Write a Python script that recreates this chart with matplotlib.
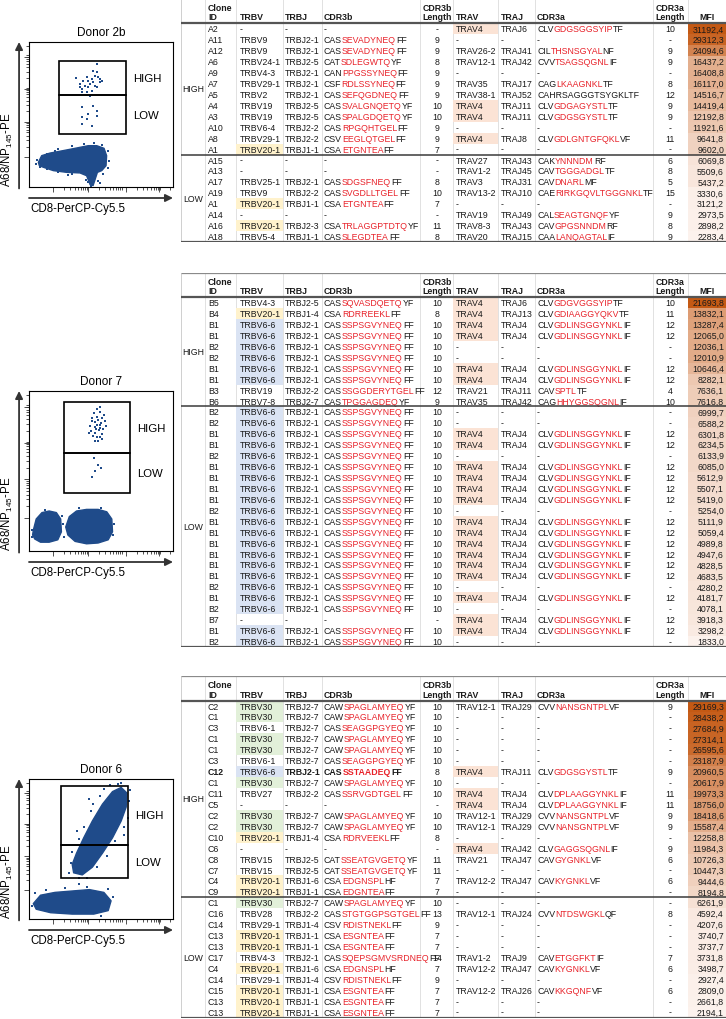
import matplotlib
matplotlib.use("Agg")
import matplotlib.pyplot as plt
from matplotlib.patches import Rectangle, Polygon
from matplotlib.font_manager import FontProperties
import numpy as np

plt.rcParams['font.family'] = ['Liberation Sans', 'DejaVu Sans']
plt.rcParams['mathtext.fontset'] = 'custom'
plt.rcParams['mathtext.rm'] = 'Liberation Sans'

W, H = 726, 1020

# ======================= DATA =======================
# ---- Donor 2b ----
t1_ids = ["A2", "A11", "A12", "A6", "A9", "A7", "A5", "A4", "A3", "A10", "A8", "A1",
          "A15", "A13", "A17", "A19", "A1", "A14", "A16", "A18"]
t1_trbv = ["-", "TRBV9", "TRBV9", "TRBV24-1", "TRBV4-3", "TRBV29-1", "TRBV2", "TRBV19", "TRBV19",
           "TRBV6-4", "TRBV29-1", "TRBV20-1", "-", "-", "TRBV25-1", "TRBV9", "TRBV20-1", "-",
           "TRBV20-1", "TRBV5-4"]
t1_trbj = ["-", "TRBJ2-1", "TRBJ2-1", "TRBJ2-5", "TRBJ2-1", "TRBJ2-1", "TRBJ2-1", "TRBJ2-5", "TRBJ2-5",
           "TRBJ2-2", "TRBJ2-2", "TRBJ1-1", "-", "-", "TRBJ2-1", "TRBJ2-2", "TRBJ1-1", "-",
           "TRBJ2-3", "TRBJ1-1"]
t1_cdr3b = ["-", "CAS[SEVADYNEQ]FF", "CAS[SEVADYNEQ]FF", "CAT[SDLEGWTQ]YF", "CAN[PPGSSYNEQ]FF",
            "CSF[RDLSSYNEQ]FF", "CAS[SEFQGDNEQ]FF", "CAS[SVALGNQETQ]YF", "CAS[SPALGDQETQ]YF",
            "CAS[RPGQHTGEL]FF", "CSV[EEGLQTGEL]FF", "CSA[ETGNTEA]FF", "-", "-", "CAS[SDGSFNEQ]FF",
            "CAS[SVGDLLTGEL]FF", "CSA[ETGNTEA]FF", "-", "CSA[TRLAGGPTDTQ]YF", "CAS[SLEGDTEA]FF"]
t1_blen = ["-", "9", "9", "8", "9", "9", "9", "10", "10", "9", "9", "7", "-", "-", "8", "10", "7", "-", "11", "8"]
t1_trav = ["TRAV4", "-", "TRAV26-2", "TRAV12-1", "-", "TRAV35", "TRAV38-1", "TRAV4", "TRAV4", "-",
           "TRAV4", "-", "TRAV27", "TRAV1-2", "TRAV3", "TRAV13-2", "-", "TRAV19", "TRAV8-3", "TRAV20"]
t1_traj = ["TRAJ6", "-", "TRAJ41", "TRAJ42", "-", "TRAJ17", "TRAJ52", "TRAJ11", "TRAJ11", "-",
           "TRAJ8", "-", "TRAJ43", "TRAJ45", "TRAJ31", "TRAJ10", "-", "TRAJ49", "TRAJ43", "TRAJ15"]
t1_cdr3a = ["CLV[GDGSGGSYIP]TF", "-", "CIL[THSNSGYAL]NF", "CVV[TSAGSQGNL]IF", "-", "CAG[LKAAGNKL]TF",
            "CAHRSAGGGTSYGKLTF", "CLV[GDGAGYSTL]TF", "CLV[GDGSGYSTL]TF", "-", "CLV[GDLGNTGFQKL]VF", "-",
            "CAK[YNNNDM]RF", "CAV[TGGGADGL]TF", "CAV[DNARL]MF", "CAE[RIRKGQVLTGGGNKL]TF", "-",
            "CAL[SEAGTGNQF]YF", "CAV[GPGSNNDM]RF", "CAA[LANQAGTAL]IF"]
t1_alen = ["10", "-", "9", "9", "-", "8", "12", "9", "9", "-", "11", "-", "6", "8", "5", "15", "-", "9", "8", "9"]
t1_mfi = [31192.4, 29312.3, 24094.6, 16437.2, 16408.8, 16117.0, 14516.7, 14419.4, 12192.8, 11921.6,
          9641.8, 9602.0, 6069.8, 5509.6, 5437.2, 3330.6, 3121.2, 2973.5, 2898.2, 2283.4]
t1_nhigh = 12

# ---- Donor 7 ----
B66 = "CAS[SSPSGVYNEQ]FF"
A4L = "CLV[GDLINSGGYNKL]IF"
t2_ids = ["B5", "B4", "B1", "B1", "B2", "B2", "B1", "B1", "B3", "B6",
          "B2", "B2", "B1", "B1", "B2", "B1", "B1", "B1", "B1", "B2", "B1", "B1", "B1", "B1",
          "B1", "B1", "B2", "B1", "B2", "B7", "B1", "B2"]
t2_trbv = ["TRBV4-3", "TRBV20-1", "TRBV6-6", "TRBV6-6", "TRBV6-6", "TRBV6-6", "TRBV6-6", "TRBV6-6",
           "TRBV19", "TRBV7-8",
           "TRBV6-6", "TRBV6-6", "TRBV6-6", "TRBV6-6", "TRBV6-6", "TRBV6-6", "TRBV6-6", "TRBV6-6",
           "TRBV6-6", "TRBV6-6", "TRBV6-6", "TRBV6-6", "TRBV6-6", "TRBV6-6", "TRBV6-6", "TRBV6-6",
           "TRBV6-6", "TRBV6-6", "TRBV6-6", "-", "TRBV6-6", "TRBV6-6"]
t2_trbj = ["TRBJ2-5", "TRBJ1-4", "TRBJ2-1", "TRBJ2-1", "TRBJ2-1", "TRBJ2-1", "TRBJ2-1", "TRBJ2-1",
           "TRBJ2-2", "TRBJ2-7",
           "TRBJ2-1", "TRBJ2-1", "TRBJ2-1", "TRBJ2-1", "TRBJ2-1", "TRBJ2-1", "TRBJ2-1", "TRBJ2-1",
           "TRBJ2-1", "TRBJ2-1", "TRBJ2-1", "TRBJ2-1", "TRBJ2-1", "TRBJ2-1", "TRBJ2-1", "TRBJ2-1",
           "TRBJ2-1", "TRBJ2-1", "TRBJ2-1", "-", "TRBJ2-1", "TRBJ2-1"]
t2_cdr3b = ["CAS[SQVASDQETQ]YF", "CSA[RDRREEKL]FF", B66, B66, B66, B66, B66, B66,
            "CAS[SSGGDERYTGEL]FF", "CAS[TPGGAGDEQ]YF",
            B66, B66, B66, B66, B66, B66, B66, B66, B66, B66, B66, B66, B66, B66, B66, B66,
            B66, B66, B66, "-", B66, B66]
t2_blen = ["10", "8", "10", "10", "10", "10", "10", "10", "12", "9",
           "10", "10", "10", "10", "10", "10", "10", "10", "10", "10", "10", "10", "10", "10",
           "10", "10", "10", "10", "10", "-", "10", "10"]
t2_trav = ["TRAV4", "TRAV4", "TRAV4", "TRAV4", "-", "-", "TRAV4", "TRAV4", "TRAV21", "TRAV35",
           "-", "-", "TRAV4", "TRAV4", "-", "TRAV4", "TRAV4", "TRAV4", "TRAV4", "-", "TRAV4", "TRAV4",
           "TRAV4", "TRAV4", "TRAV4", "TRAV4", "-", "TRAV4", "-", "TRAV4", "TRAV4", "-"]
t2_traj = ["TRAJ6", "TRAJ13", "TRAJ4", "TRAJ4", "-", "-", "TRAJ4", "TRAJ4", "TRAJ11", "TRAJ42",
           "-", "-", "TRAJ4", "TRAJ4", "-", "TRAJ4", "TRAJ4", "TRAJ4", "TRAJ4", "-", "TRAJ4", "TRAJ4",
           "TRAJ4", "TRAJ4", "TRAJ4", "TRAJ4", "-", "TRAJ4", "-", "TRAJ4", "TRAJ4", "-"]
t2_cdr3a = ["CLV[GDGVGGSYIP]TF", "CLV[GDIAAGGYQKV]TF", A4L, A4L, "-", "-", A4L, A4L,
            "CAV[SPTL]TF", "CAG[HHYGGSQGNL]IF",
            "-", "-", A4L, A4L, "-", A4L, A4L, A4L, A4L, "-", A4L, A4L,
            A4L, A4L, A4L, A4L, "-", A4L, "-", A4L, A4L, "-"]
t2_alen = ["10", "11", "12", "12", "-", "-", "12", "12", "4", "10",
           "-", "-", "12", "12", "-", "12", "12", "12", "12", "-", "12", "12",
           "12", "12", "12", "12", "-", "12", "-", "12", "12", "-"]
t2_mfi = [21693.8, 13832.1, 13287.4, 12065.0, 12036.1, 12010.9, 10646.4, 8282.1, 7636.1, 7616.8,
          6999.7, 6588.2, 6301.8, 6234.5, 6133.9, 6085.0, 5612.9, 5507.1, 5419.0, 5254.0, 5111.9,
          5059.4, 4989.8, 4947.6, 4828.5, 4683.5, 4280.2, 4181.7, 4078.1, 3918.3, 3298.2, 1833.0]
t2_nhigh = 10

# ---- Donor 6 ----
C30 = "CAW[SPAGLAMYEQ]YF"
t3_ids = ["C2", "C1", "C3", "C1", "C1", "C3", "C12", "C1", "C11", "C5", "C2", "C2", "C10", "C6",
          "C8", "C7", "C4", "C9",
          "C1", "C16", "C14", "C13", "C13", "C17", "C4", "C14", "C15", "C13", "C13"]
t3_trbv = ["TRBV30", "TRBV30", "TRBV6-1", "TRBV30", "TRBV30", "TRBV6-1", "TRBV6-6", "TRBV30", "TRBV27",
           "-", "TRBV30", "TRBV30", "TRBV20-1", "-", "TRBV15", "TRBV15", "TRBV20-1", "TRBV20-1",
           "TRBV30", "TRBV28", "TRBV29-1", "TRBV20-1", "TRBV20-1", "TRBV4-3", "TRBV20-1", "TRBV29-1",
           "TRBV20-1", "TRBV20-1", "TRBV20-1"]
t3_trbj = ["TRBJ2-7", "TRBJ2-7", "TRBJ2-7", "TRBJ2-7", "TRBJ2-7", "TRBJ2-7", "TRBJ2-1", "TRBJ2-7",
           "TRBJ2-2", "-", "TRBJ2-7", "TRBJ2-7", "TRBJ1-4", "-", "TRBJ2-5", "TRBJ2-5", "TRBJ1-6",
           "TRBJ1-1",
           "TRBJ2-7", "TRBJ2-2", "TRBJ1-4", "TRBJ1-1", "TRBJ1-1", "TRBJ2-1", "TRBJ1-6", "TRBJ1-4",
           "TRBJ1-1", "TRBJ1-1", "TRBJ1-1"]
t3_cdr3b = [C30, C30, "CAS[SEAGGPGYEQ]YF", C30, C30, "CAS[SEAGGPGYEQ]YF", "CAS[SSTAADEQ]FF", C30,
            "CAS[SSRVGDTGEL]FF", "-", C30, C30, "CSA[RDRVEEKL]FF", "-", "CAT[SSEATGVGETQ]YF",
            "CAT[SSEATGVGETQ]YF", "CSA[EDGNSPL]HF", "CSA[EDGNTEA]FF",
            C30, "CAS[STGTGGPSGTGEL]FF", "CSV[RDISTNEKL]FF", "CSA[ESGNTEA]FF", "CSA[ESGNTEA]FF",
            "CAS[SQEPSGMVSRDNEQ]FF", "CSA[EDGNSPL]HF", "CSV[RDISTNEKL]FF", "CSA[ESGNTEA]FF",
            "CSA[ESGNTEA]FF", "CSA[ESGNTEA]FF"]
t3_blen = ["10", "10", "10", "10", "10", "10", "8", "10", "10", "-", "10", "10", "8", "-", "11", "11",
           "7", "7", "10", "13", "9", "7", "7", "14", "7", "9", "7", "7", "7"]
t3_trav = ["TRAV12-1", "-", "-", "-", "-", "-", "TRAV4", "-", "TRAV4", "TRAV4", "TRAV12-1", "TRAV12-1",
           "-", "TRAV4", "TRAV21", "-", "TRAV12-2", "-",
           "-", "TRAV12-1", "-", "-", "-", "TRAV1-2", "TRAV12-2", "-", "TRAV12-2", "-", "-"]
t3_traj = ["TRAJ29", "-", "-", "-", "-", "-", "TRAJ11", "-", "TRAJ4", "TRAJ4", "TRAJ29", "TRAJ29",
           "-", "TRAJ42", "TRAJ47", "-", "TRAJ47", "-",
           "-", "TRAJ24", "-", "-", "-", "TRAJ9", "TRAJ47", "-", "TRAJ26", "-", "-"]
t3_cdr3a = ["CVV[NANSGNTPL]VF", "-", "-", "-", "-", "-", "CLV[GDGSGYSTL]TF", "-", "CLV[DPLAAGGYNKL]IF",
            "CLV[DPLAAGGYNKL]IF", "CVV[NANSGNTPL]VF", "CVV[NANSGNTPL]VF", "-", "CLV[GAGGSQGNL]IF",
            "CAV[GYGNKL]VF", "-", "CAV[KYGNKL]VF", "-",
            "-", "CVV[NTDSWGKL]QF", "-", "-", "-", "CAV[ETGGFKT]IF", "CAV[KYGNKL]VF", "-",
            "CAV[KKGQNF]VF", "-", "-"]
t3_alen = ["9", "-", "-", "-", "-", "-", "9", "-", "11", "11", "9", "9", "-", "9", "6", "-", "6", "-",
           "-", "8", "-", "-", "-", "7", "6", "-", "6", "-", "-"]
t3_mfi = [29169.3, 28438.2, 27684.9, 27314.1, 26595.6, 23187.9, 20960.5, 20617.9, 19973.3, 18756.0,
          18418.6, 15587.4, 12258.8, 11984.3, 10726.3, 10447.3, 9444.6, 8194.8,
          6261.9, 4592.4, 4207.6, 3740.7, 3737.7, 3731.8, 3498.7, 2927.4, 2809.0, 2661.8, 2194.1]
t3_nhigh = 18
t3_bold_ids = ["C12"]

# ---- flow plots (coordinates in plot units 0-100) ----
f1_gate_x = [20.8, 67.4]
f1_gate_y = [36.6, 63.4, 86.9]
f1_cloud_x = [6.5, 8.8, 14.6, 23.8, 33.1, 41.2, 47.0, 52.1, 53.9, 53.5, 50.5, 47.5, 46.0, 44.5,
              42.5, 40.0, 35.4, 26.2, 16.9, 10.0, 7.2]
f1_cloud_y = [17.0, 21.6, 23.4, 25.1, 26.9, 28.5, 28.5, 26.7, 21.6, 14.7, 11.3, 10.1, 5.5, 1.0,
              1.5, 7.8, 9.7, 10.1, 11.3, 13.6, 14.7]
f1_pts_x = [47.0, 44.7, 47.0, 45.8, 48.1, 43.5, 41.2, 37.7, 35.4, 38.9, 42.4, 49.3, 47.0, 36.6, 43.5,
            40.0, 32.6, 49.3, 35.4, 41.2, 44.7, 40.0, 36.6, 42.4, 45.8, 50.5,
            36.6, 44.7, 47.0, 41.2, 36.6, 40.0, 47.0, 43.5, 36.6,
            5.5, 7.5, 9.5, 12.5, 20.0, 30.0, 38.0, 45.0, 50.5, 55.0, 55.5, 54.8, 51.5, 48.0, 43.0,
            41.0, 30.0, 20.0, 12.5, 49.0, 39.5, 4.8, 27.0, 18.0]
f1_pts_y = [84.8, 80.2, 79.1, 76.8, 75.6, 74.5, 73.3, 73.3, 71.0, 69.9, 71.0, 72.2, 68.7, 67.6, 66.4,
            65.3, 75.0, 74.5, 68.7, 68.7, 72.2, 75.6, 65.3, 63.0, 69.9, 73.3,
            54.9, 56.1, 52.6, 50.3, 48.0, 46.9, 49.2, 42.3, 43.4,
            18.5, 14.0, 20.5, 23.0, 26.0, 28.4, 29.8, 30.2, 29.0, 25.0, 18.0, 13.0, 9.0, 4.0, 0.5,
            3.5, 9.0, 10.3, 12.5, 2.5, 5.0, 16.0, 8.5, 24.5]

f2_gate_x = [24.0, 70.0]
f2_gate_y = [36.0, 61.0, 93.0]
f2_cloud1_x = [3.0, 5.0, 9.0, 14.0, 19.0, 22.0, 22.5, 20.0, 14.0, 8.0, 4.0, 2.5]
f2_cloud1_y = [13.0, 20.0, 24.0, 25.0, 24.0, 20.0, 12.0, 7.0, 5.5, 5.5, 7.5, 10.0]
f2_cloud2_x = [25.5, 28.0, 33.0, 40.0, 48.0, 54.0, 57.5, 58.0, 55.0, 48.0, 40.0, 32.0, 27.0]
f2_cloud2_y = [15.0, 21.5, 25.0, 26.0, 26.0, 24.5, 20.0, 12.0, 7.0, 5.0, 4.5, 6.0, 10.0]
f2_pts_x = [45.0, 47.0, 49.0, 50.5, 52.0, 44.0, 46.0, 48.0, 50.0, 53.0, 42.5, 45.5, 47.5, 49.5, 51.5,
            43.0, 46.0, 48.5, 50.5, 44.5, 47.0, 49.0, 51.0, 45.5, 48.0, 42.0, 53.5, 46.5, 49.5, 44.0,
            47.0, 49.0, 45.0, 48.0, 46.0, 50.0, 44.0,
            1.8, 2.0, 23.8, 24.5, 59.0, 58.5, 23.0, 11.0, 35.0, 50.0]
f2_pts_y = [86.0, 84.0, 87.0, 83.0, 85.0, 81.0, 80.5, 82.0, 80.0, 81.5, 78.0, 77.5, 78.5, 77.0, 76.5,
            75.0, 74.0, 75.5, 73.0, 72.0, 71.5, 71.0, 70.0, 69.0, 68.5, 73.5, 78.0, 76.0, 79.0, 83.0,
            89.0, 90.0, 58.0, 54.0, 50.0, 52.0, 46.0,
            13.0, 9.0, 17.0, 9.0, 17.0, 10.0, 22.0, 25.5, 27.0, 27.0]

f3_gate_x = [22.0, 69.0]
f3_gate_y = [29.0, 53.0, 95.0]
f3_band_x = [31.0, 37.0, 44.0, 51.0, 58.0, 64.0, 67.5, 68.0, 64.0, 58.0, 51.0, 44.0, 38.0, 33.0, 30.0]
f3_band_y = [33.0, 31.5, 37.0, 47.0, 58.0, 70.0, 80.0, 90.0, 94.0, 91.0, 82.0, 70.0, 58.0, 47.0, 39.0]
f3_cloud_x = [3.0, 8.0, 18.0, 30.0, 42.0, 52.0, 57.0, 55.0, 45.0, 30.0, 15.0, 5.0]
f3_cloud_y = [11.0, 17.0, 19.0, 20.0, 21.0, 19.0, 13.0, 6.0, 3.5, 3.5, 4.5, 7.0]
f3_pts_x = [29.0, 30.0, 34.5, 38.0, 43.0, 49.0, 56.0, 62.0, 69.5, 69.0, 66.0, 60.0, 54.0, 47.0, 40.0,
            35.0, 31.5, 44.5, 55.0, 64.0, 70.0, 27.5, 33.0, 42.0, 52.0, 60.0, 66.0,
            4.0, 12.0, 25.0, 40.0, 55.0, 58.0, 50.0, 2.0, 35.0]
f3_pts_y = [40.0, 48.0, 57.0, 66.0, 77.0, 88.0, 95.5, 96.5, 84.0, 72.0, 66.0, 56.0, 45.0, 37.0, 29.0,
            29.5, 36.0, 82.0, 64.0, 97.5, 92.0, 33.0, 63.0, 86.0, 93.0, 75.0, 60.0,
            18.5, 20.5, 22.0, 23.0, 21.5, 16.0, 2.5, 9.0, 25.0]

# ======================= STYLE =======================
FS = 6.3
RED = '#E8222A'
TXT = '#1a1a1a'
BLUE = '#1F4B8A'
TRBV_FILL = {'TRBV20-1': '#FFF2CC', 'TRBV6-6': '#DAE3F3', 'TRBV30': '#E2F0D9'}
TRAV_FILL = {'TRAV4': '#FBE3D5'}
MFI_LO = np.array([252, 242, 237]) / 255.0
MFI_HI = np.array([196, 89, 20]) / 255.0

ROW_PX = 10.93
HDR = 2.25
EDGES = [181, 205, 236, 283, 322, 420, 453, 498, 535, 653, 688, 726]

fig = plt.figure(figsize=(W / 100, H / 100), dpi=100)
renderer = fig.canvas.get_renderer()
_wcache = {}


def text_width(s, weight):
    key = (s, weight)
    if key not in _wcache:
        fp = FontProperties(family=['Liberation Sans', 'DejaVu Sans'], size=FS, weight=weight)
        w, _, _ = renderer.get_text_width_height_descent(s, fp, ismath=False)
        _wcache[key] = w
    return _wcache[key]


def parse_seq(s):
    parts = []
    buf = ''
    col = TXT
    for ch in s:
        if ch == '[':
            if buf:
                parts.append((buf, col))
            buf, col = '', RED
        elif ch == ']':
            if buf:
                parts.append((buf, col))
            buf, col = '', TXT
        else:
            buf += ch
    if buf:
        parts.append((buf, col))
    return parts


def seq_text(ax, x, y, s, weight='normal'):
    prefix = ''
    for txt, col in parse_seq(s):
        off = text_width(prefix, weight) if prefix else 0.0
        ax.text(x + off, y, txt, color=col, ha='left', va='center', fontsize=FS,
                fontweight=weight, zorder=5)
        prefix += txt


def draw_table(top_px, ids, trbv, trbj, cdr3b, blen, trav, traj, cdr3a, alen, mfi, nhigh,
               bold_ids=()):
    n = len(ids)
    h_px = (n + HDR) * ROW_PX
    ax = fig.add_axes([EDGES[0] / W, 1 - (top_px + h_px) / H, (EDGES[-1] - EDGES[0]) / W, h_px / H])
    ax.set_xlim(EDGES[0], EDGES[-1])
    ax.set_ylim(n, -HDR)
    ax.axis('off')
    ax.vlines(EDGES[1:-1], -HDR, n, color='#dcdcdc', lw=0.6, zorder=1)
    ax.vlines([EDGES[0]], -HDR, n, color='#c8c8c8', lw=0.6, zorder=1)
    y1, y2 = -HDR + 0.82, -0.6
    hk = dict(fontsize=FS, fontweight='bold', color=TXT, va='center', zorder=5)
    ax.text(208, y1, 'Clone', ha='left', **hk)
    ax.text(208, y2, 'ID', ha='left', **hk)
    ax.text(240, y2, 'TRBV', ha='left', **hk)
    ax.text(285, y2, 'TRBJ', ha='left', **hk)
    ax.text(324, y2, 'CDR3b', ha='left', **hk)
    ax.text(437, y1, 'CDR3b', ha='center', **hk)
    ax.text(437, y2, 'Length', ha='center', **hk)
    ax.text(456, y2, 'TRAV', ha='left', **hk)
    ax.text(501, y2, 'TRAJ', ha='left', **hk)
    ax.text(537, y2, 'CDR3a', ha='left', **hk)
    ax.text(670, y1, 'CDR3a', ha='center', **hk)
    ax.text(670, y2, 'Length', ha='center', **hk)
    ax.text(707, y2, 'MFI', ha='center', **hk)
    vmin, vmax = min(mfi), max(mfi)
    for i in range(n):
        yc = i + 0.5
        if trbv[i] in TRBV_FILL:
            ax.add_patch(Rectangle((EDGES[2], i), EDGES[3] - EDGES[2], 1, fc=TRBV_FILL[trbv[i]],
                                   ec='none', zorder=2))
        if trav[i] in TRAV_FILL:
            ax.add_patch(Rectangle((EDGES[6], i), EDGES[7] - EDGES[6], 1, fc=TRAV_FILL[trav[i]],
                                   ec='none', zorder=2))
        t = ((mfi[i] - vmin) / (vmax - vmin)) ** 1.15
        ax.add_patch(Rectangle((EDGES[10], i), EDGES[11] - EDGES[10], 1,
                               fc=MFI_LO + (MFI_HI - MFI_LO) * t, ec='none', zorder=2))
        w = 'bold' if ids[i] in bold_ids else 'normal'
        k = dict(fontsize=FS, color=TXT, va='center', zorder=5)
        ax.text(208, yc, ids[i], ha='left', fontweight=w, **k)
        ax.text(240, yc, trbv[i], ha='left', **k)
        ax.text(285, yc, trbj[i], ha='left', fontweight=w, **k)
        seq_text(ax, 324, yc, cdr3b[i], weight=w)
        ax.text(437, yc, blen[i], ha='center', **k)
        ax.text(456, yc, trav[i], ha='left', **k)
        ax.text(501, yc, traj[i], ha='left', **k)
        seq_text(ax, 537, yc, cdr3a[i])
        ax.text(670, yc, alen[i], ha='center', **k)
        ax.text(724, yc, f"{mfi[i]:.1f}".replace('.', ','), ha='right', **k)
    ax.text(193, nhigh / 2, 'HIGH', ha='center', va='center', fontsize=FS, color=TXT, zorder=5)
    ax.text(193, (nhigh + n) / 2, 'LOW', ha='center', va='center', fontsize=FS, color=TXT, zorder=5)
    ax.hlines(-HDR, EDGES[0], EDGES[-1], color='#8a8a8a', lw=0.9, zorder=6)
    ax.hlines(0, EDGES[0], EDGES[-1], color='#555555', lw=1.6, zorder=6)
    ax.hlines(nhigh, EDGES[0], EDGES[-1], color='#3a3a3a', lw=1.1, zorder=6)
    ax.hlines(n, EDGES[0], EDGES[-1], color='#555555', lw=1.6, zorder=6)


def draw_flow(top_px, h_px, title, gate_x, gate_y, polys, px, py):
    ax = fig.add_axes([29 / W, 1 - (top_px + h_px) / H, 144 / W, h_px / H])
    ax.set_xlim(0, 100)
    ax.set_ylim(0, 100)
    for xs, ys in polys:
        ax.add_patch(Polygon(np.column_stack([xs, ys]), closed=True, fc=BLUE, ec=BLUE, lw=1.0,
                             joinstyle='round', zorder=2))
    ax.scatter(px, py, s=4, marker='s', c=BLUE, linewidths=0, zorder=3, clip_on=False)
    gx0, gx1 = gate_x
    glo, gmid, ghi = gate_y
    ax.add_patch(Rectangle((gx0, glo), gx1 - gx0, gmid - glo, fill=False, ec='black', lw=1.2, zorder=4))
    ax.add_patch(Rectangle((gx0, gmid), gx1 - gx0, ghi - gmid, fill=False, ec='black', lw=1.2, zorder=4))
    ax.text(gx1 + 5, (gmid + ghi) / 2, 'HIGH', ha='left', va='center', fontsize=8.2)
    ax.text(gx1 + 5, (glo + gmid) / 2, 'LOW', ha='left', va='center', fontsize=8.2)
    ax.text(0.5, 1 + 10.0 / h_px, title, ha='center', va='center', fontsize=8.5, transform=ax.transAxes)
    xmaj = [16.9, 41.2, 67.4, 90.5]
    ymaj = [20.5, 44.8, 67.7, 90.0]
    dec = 24.5
    xmin = [m + dec * np.log10(k) for m in xmaj for k in range(2, 10) if m + dec * np.log10(k) < 100]
    ymin = [m + dec * np.log10(k) for m in ymaj for k in range(2, 10) if m + dec * np.log10(k) < 100]
    ax.set_xticks(xmaj)
    ax.set_yticks(ymaj)
    ax.set_xticks(xmin, minor=True)
    ax.set_yticks(ymin, minor=True)
    ax.tick_params(which='both', labelbottom=False, labelleft=False, direction='out', width=0.6,
                   color='#333333')
    ax.tick_params(which='major', length=3.5)
    ax.tick_params(which='minor', length=2)
    for s in ax.spines.values():
        s.set_linewidth(0.8)
    ya = -11.0 / h_px
    ax.annotate('', xy=(-0.069, 1.0), xytext=(-0.069, -0.01), xycoords='axes fraction',
                arrowprops=dict(arrowstyle='-|>', lw=1.3, color='#333333', mutation_scale=11,
                                shrinkA=0, shrinkB=0))
    ax.annotate('', xy=(1.0, ya), xytext=(0.0, ya), xycoords='axes fraction',
                arrowprops=dict(arrowstyle='-|>', lw=1.3, color='#333333', mutation_scale=11,
                                shrinkA=0, shrinkB=0))
    ax.text(-0.153, 38.0 / h_px, r'A68/NP$_{\mathregular{145}}$-PE', rotation=90, ha='center',
            va='center', fontsize=8.3, transform=ax.transAxes)
    ax.text(0.007, -21.0 / h_px, 'CD8-PerCP-Cy5.5', ha='left', va='center', fontsize=8.3,
            transform=ax.transAxes)


draw_table(243.0 - (len(t1_ids) + HDR) * ROW_PX, t1_ids, t1_trbv, t1_trbj, t1_cdr3b, t1_blen, t1_trav,
           t1_traj, t1_cdr3a, t1_alen, t1_mfi, t1_nhigh)
draw_table(273.6, t2_ids, t2_trbv, t2_trbj, t2_cdr3b, t2_blen, t2_trav, t2_traj, t2_cdr3a, t2_alen,
           t2_mfi, t2_nhigh)
draw_table(677.0, t3_ids, t3_trbv, t3_trbj, t3_cdr3b, t3_blen, t3_trav, t3_traj, t3_cdr3a, t3_alen,
           t3_mfi, t3_nhigh, bold_ids=t3_bold_ids)

draw_flow(43, 145, 'Donor 2b', f1_gate_x, f1_gate_y, [(f1_cloud_x, f1_cloud_y)], f1_pts_x, f1_pts_y)
draw_flow(392, 160, 'Donor 7', f2_gate_x, f2_gate_y,
          [(f2_cloud1_x, f2_cloud1_y), (f2_cloud2_x, f2_cloud2_y)], f2_pts_x, f2_pts_y)
draw_flow(780, 140, 'Donor 6', f3_gate_x, f3_gate_y,
          [(f3_band_x, f3_band_y), (f3_cloud_x, f3_cloud_y)], f3_pts_x, f3_pts_y)

fig.savefig('out.png', dpi=100)
